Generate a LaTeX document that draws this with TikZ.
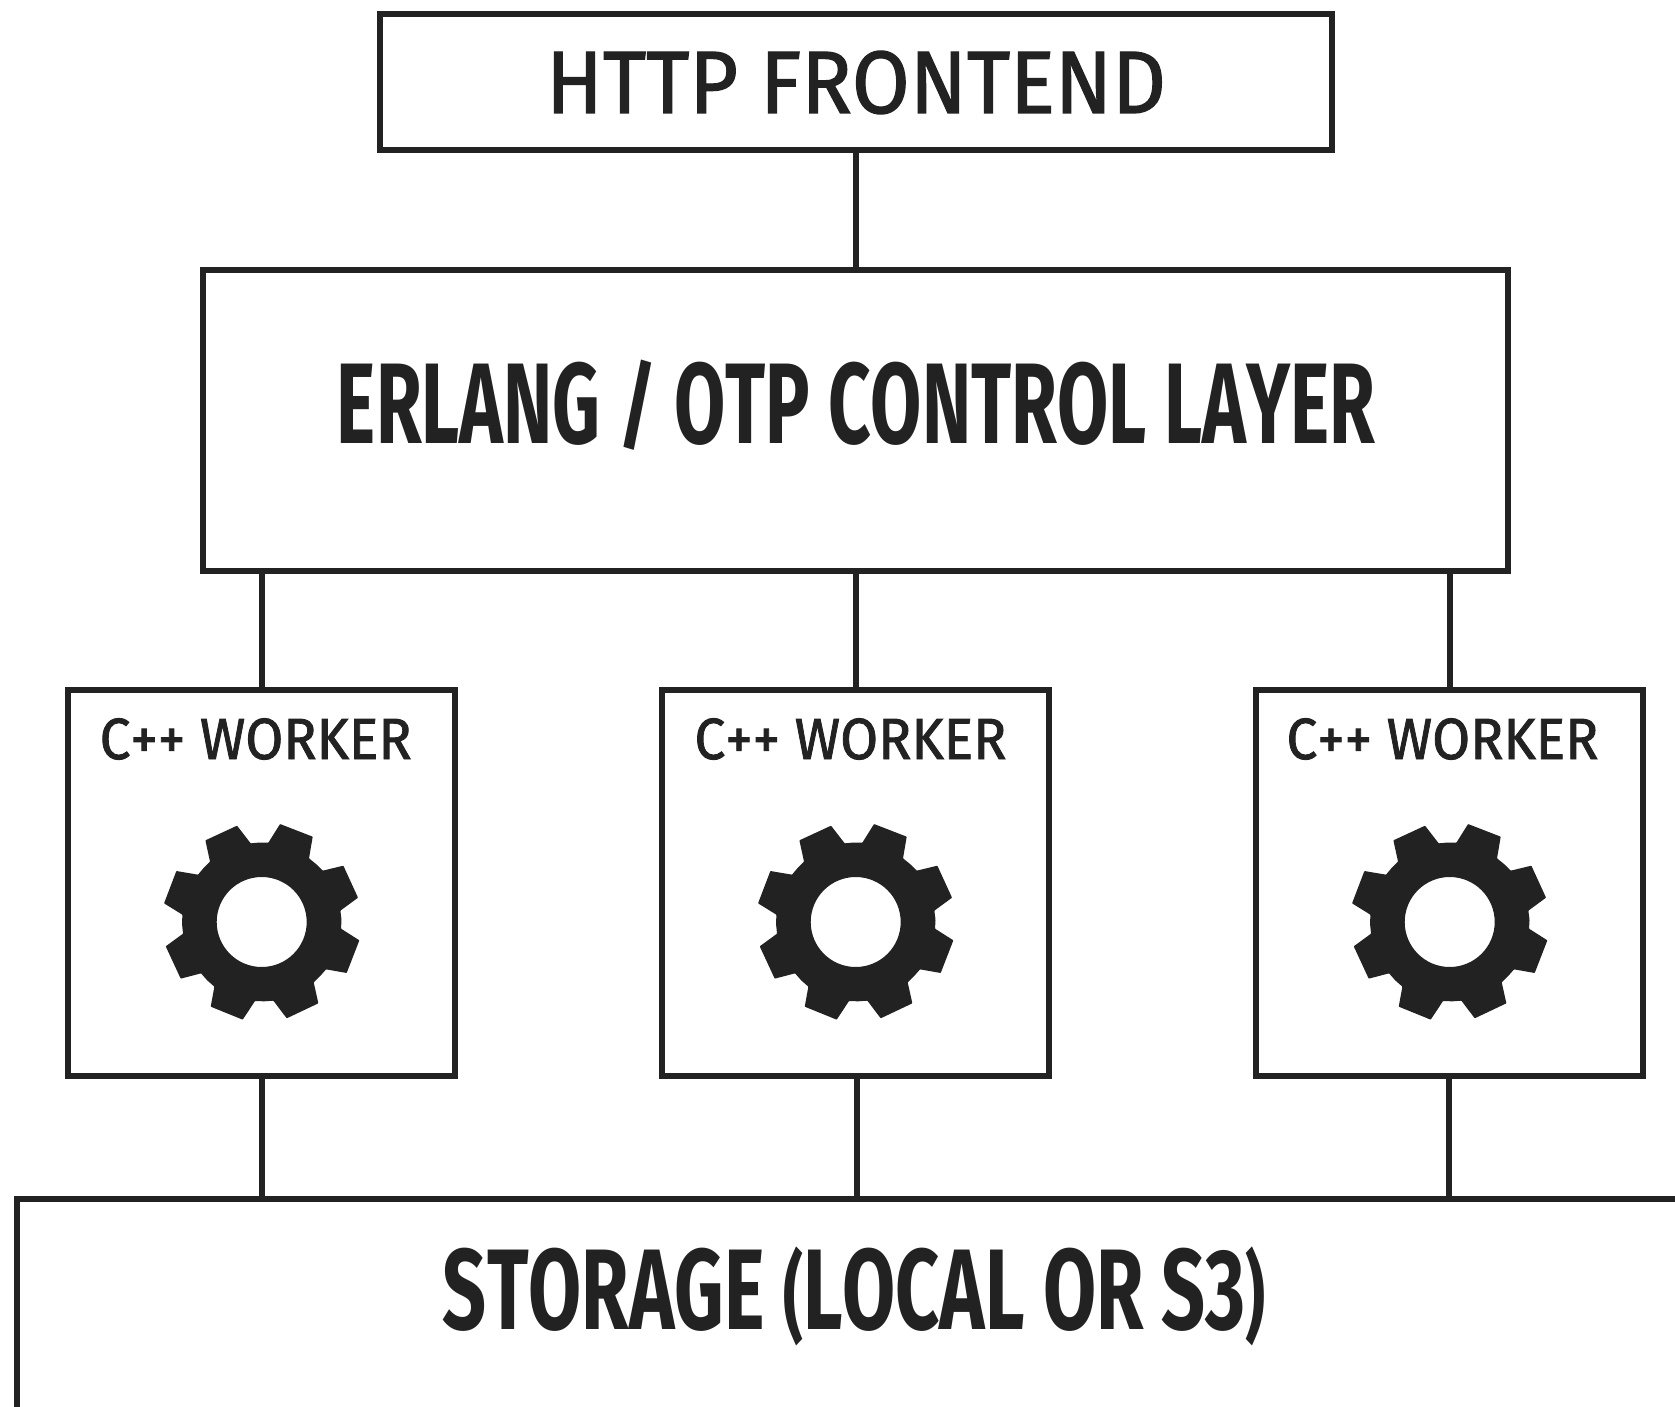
\documentclass[tikz,border=0pt]{standalone}
\usepackage{fontspec}
\usepackage{graphicx}
\setmainfont{Fira Sans}[Kerning=Off]
\newfontfamily\heavyfont{Fira Sans}[Kerning=Off,FakeBold=1.5]
\definecolor{ink}{HTML}{222222}
\newcommand{\fitcaps}[3]{\resizebox{#1pt}{#2pt}{\fontsize{100}{100}\selectfont\raisebox{0pt}[68.9pt][0pt]{#3}}}
\newcommand{\gearshape}[2]{%
  \begin{scope}[shift={(#1,#2)},x=0.3333pt,y=-0.3333pt]
    \fill[ink,even odd rule,rounded corners=0.6pt]
      (-33,-236) -- (-6,-238.5) -- (20,-238) -- (55,-294) -- (153,-256) -- (142,-191) -- (163.5,-173.5) -- (183,-154) -- (245,-169)
      -- (289,-73) -- (236,-34) -- (239.5,-7) -- (238,20) -- (293,55) -- (255,153) -- (193,142) -- (175.5,162) -- (156,181)
      -- (170,244) -- (75,289) -- (35,236) -- (7.5,238) -- (-20,237) -- (-57,293) -- (-153,254) -- (-142,194) -- (-163.5,175)
      -- (-182,154) -- (-243,170) -- (-288,73) -- (-236,35) -- (-239,6.5) -- (-238,-22) -- (-293,-56)
      -- (-256,-153) -- (-191,-142) -- (-174,-162.5) -- (-155,-181) -- (-169,-245) -- (-74,-289) -- cycle
      (0,0) circle[radius=135];
  \end{scope}}
\tikzset{
  box/.style={draw=ink,line width=6pt,fill=none,inner sep=0pt,outer sep=0pt,rectangle},
  workerbox/.style={box,minimum width=387pt,minimum height=386pt},
  label/.style={inner sep=0pt,outer sep=0pt,anchor=south,text=ink},
  link/.style={draw=ink,line width=6pt}
}
\begin{document}
\begin{tikzpicture}[x=1pt,y=-1pt]
  \useasboundingbox (0,0) rectangle (1675,1407);
  \fill[white] (0,0) rectangle (1675,1407);
  \node[box,minimum width=952pt,minimum height=136.5pt] (http) at (856,82) {};
  \node[box,minimum width=1305pt,minimum height=301.5pt] (erlang) at (855.5,420.3) {};
  \node[workerbox] (w1) at (261.5,883) {};
  \node[workerbox] (w2) at (855.5,883) {};
  \node[workerbox] (w3) at (1449.5,883) {};
  \coordinate (sbl) at (16.5,1407);
  \coordinate (stl) at (16.5,1198.7);
  \coordinate (str) at (1675,1198.7);
  \draw[link,line join=miter] (sbl) -- (stl) -- (str);
  \draw[link] (http.south) -- (http.south |- erlang.north);
  \draw[link] (erlang.south -| w1.north) -- (w1.north);
  \draw[link] (erlang.south -| w2.north) -- (w2.north);
  \draw[link] (erlang.south -| w3.north) -- (w3.north);
  \draw[link] (w1.south) -- (w1.south |- stl);
  \draw[link] ([xshift=1pt]w2.south) -- ([xshift=1pt]w2.south |- stl);
  \draw[link] ([xshift=-1pt]w3.south) -- ([xshift=-1pt]w3.south |- stl);
  \node[label] (httpt) at (856,113) {\fitcaps{620}{61}{\heavyfont HTTP FRONTEND}};
  \node[label] (erlangt) at (856,443) {\fitcaps{1038}{79}{\bfseries ERLANG \raisebox{3pt}{\scalebox{1}[0.85]{/}} OTP CONTROL LAYER}};
  \node[label] (w1t) at (255.7,759) {\fitcaps{312}{40}{\heavyfont C++ WORKER}};
  \node[label] (w2t) at (850.5,759) {\fitcaps{312}{40}{\heavyfont C++ WORKER}};
  \node[label] (w3t) at (1442.5,759) {\fitcaps{312}{40}{\heavyfont C++ WORKER}};
  \node[label] (storaget) at (854.5,1329) {\fitcaps{823}{79}{\bfseries STORAGE \raisebox{-1pt}{\scalebox{0.8}[0.85]{(}}LOCAL OR S3\raisebox{-1pt}{\scalebox{0.8}[0.85]{)}}}};
  \gearshape{261.7}{922}
  \gearshape{855.7}{922}
  \gearshape{1449.7}{922}
\end{tikzpicture}
\end{document}
